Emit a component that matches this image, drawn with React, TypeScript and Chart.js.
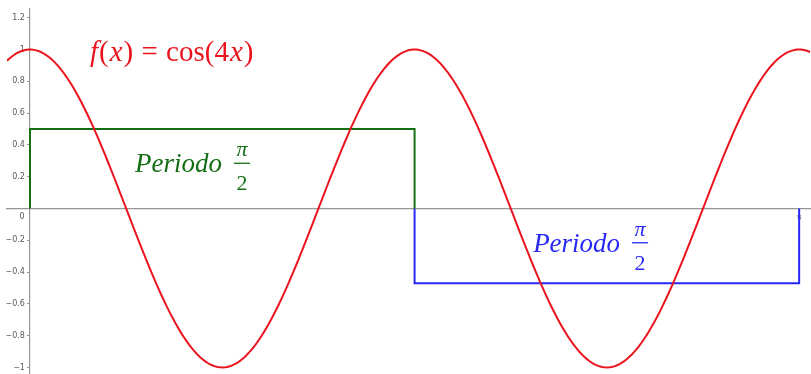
import React, { useEffect, useRef } from "react";
import { Chart, registerables } from "chart.js";

Chart.register(...registerables);

// Axis ranges
const X_MIN = -0.094;
const X_MAX = 3.19;
const Y_MIN = -1.041;
const Y_MAX = 1.255;

// Tick labels
const Y_TICKS = [-1, -0.8, -0.6, -0.4, -0.2, 0, 0.2, 0.4, 0.6, 0.8, 1, 1.2];
const X_TICKS = [Math.PI];
const X_TICK_LABELS = ["π"];

// f(x) = cos(4x), sampled across the visible range
const CURVE_STEP = 0.01;
const curveX: number[] = [];
for (let x = X_MIN; x <= X_MAX + 1e-9; x += CURVE_STEP) curveX.push(x);
const curveY = curveX.map((x) => Math.cos(4 * x));

// First period (green) and second period (blue) step outlines
const greenX = [0, 0, Math.PI / 2, Math.PI / 2];
const greenY = [0, 0.5, 0.5, 0];
const blueX = [Math.PI / 2, Math.PI / 2, Math.PI, Math.PI];
const blueY = [0, -0.47, -0.47, 0];

const RED = "rgb(235, 20, 30)";
const GREEN = "rgb(20, 110, 20)";
const BLUE = "rgb(40, 40, 245)";
const AXIS = "rgb(150, 150, 150)";
const TICK_TEXT = "rgb(90, 90, 90)";

const SERIF = '"Liberation Serif", "DejaVu Serif", serif';

type Piece = { t: string; it?: boolean };

function drawPieces(ctx: CanvasRenderingContext2D, pieces: Piece[], x: number, y: number, size: number, color: string) {
  ctx.fillStyle = color;
  ctx.textBaseline = "alphabetic";
  ctx.textAlign = "left";
  let cx = x;
  for (const p of pieces) {
    ctx.font = `${p.it ? "italic " : ""}${size}px ${SERIF}`;
    ctx.fillText(p.t, cx, y);
    cx += ctx.measureText(p.t).width + 1;
  }
}

function drawPeriodLabel(ctx: CanvasRenderingContext2D, x: number, y: number, color: string) {
  // "Periodo" followed by the fraction π / 2
  ctx.fillStyle = color;
  ctx.textBaseline = "alphabetic";
  ctx.textAlign = "left";
  ctx.font = `italic 27px ${SERIF}`;
  ctx.fillText("Periodo", x, y);
  const w = ctx.measureText("Periodo").width;
  const fx = x + w + 20;
  ctx.font = `italic 22px ${SERIF}`;
  ctx.textAlign = "center";
  ctx.fillText("π", fx, y - 16);
  ctx.font = `22px ${SERIF}`;
  ctx.fillText("2", fx, y + 18);
  ctx.strokeStyle = color;
  ctx.lineWidth = 1.3;
  ctx.beginPath();
  ctx.moveTo(fx - 8, y - 9);
  ctx.lineTo(fx + 8, y - 9);
  ctx.stroke();
}

const labelsPlugin = {
  id: "mathLabels",
  afterDatasetsDraw(chart: any) {
    const ctx: CanvasRenderingContext2D = chart.ctx;
    const xs = chart.scales.x;
    const ys = chart.scales.y;
    ctx.save();

    // origin label, below-left of the axes crossing
    ctx.font = "8px 'DejaVu Sans', sans-serif";
    ctx.fillStyle = TICK_TEXT;
    ctx.textAlign = "center";
    ctx.textBaseline = "middle";
    ctx.fillText("0", xs.getPixelForValue(0) - 8, ys.getPixelForValue(0) + 8);

    drawPieces(
      ctx,
      [
        { t: "f", it: true },
        { t: "(" },
        { t: "x", it: true },
        { t: ")" },
        { t: " = " },
        { t: "cos(4" },
        { t: "x", it: true },
        { t: ")" },
      ],
      xs.getPixelForValue(0.245),
      ys.getPixelForValue(0.928),
      29,
      RED
    );

    drawPeriodLabel(ctx, xs.getPixelForValue(0.429), ys.getPixelForValue(0.228), GREEN);
    drawPeriodLabel(ctx, xs.getPixelForValue(2.055), ys.getPixelForValue(-0.272), BLUE);

    ctx.restore();
  },
};

export default function App() {
  const ref = useRef<HTMLCanvasElement>(null);

  useEffect(() => {
    if (!ref.current) return;
    const chart = new Chart(ref.current, {
      type: "line",
      data: {
        datasets: [
          {
            label: "f(x) = cos(4x)",
            data: curveX.map((x, i) => ({ x, y: curveY[i] })),
            borderColor: RED,
            borderWidth: 2,
            pointRadius: 0,
            tension: 0,
          },
          {
            label: "Periodo 1",
            data: greenX.map((x, i) => ({ x, y: greenY[i] })),
            borderColor: GREEN,
            borderWidth: 2,
            pointRadius: 0,
            tension: 0,
          },
          {
            label: "Periodo 2",
            data: blueX.map((x, i) => ({ x, y: blueY[i] })),
            borderColor: BLUE,
            borderWidth: 2,
            pointRadius: 0,
            tension: 0,
          },
        ],
      },
      options: {
        animation: false,
        responsive: true,
        maintainAspectRatio: false,
        layout: { padding: { left: 7, top: 9, right: 0, bottom: 0 } },
        plugins: { legend: { display: false }, tooltip: { enabled: false } },
        scales: {
          x: {
            type: "linear",
            min: X_MIN,
            max: X_MAX,
            position: { y: 0 } as any,
            afterFit: (s: any) => {
              s.height = 0;
              s.paddingLeft = 0;
              s.paddingRight = 0;
            },
            afterBuildTicks: (s: any) => {
              s.ticks = X_TICKS.map((value) => ({ value }));
            },
            border: { display: true, color: AXIS, width: 1.2 },
            grid: { drawOnChartArea: false, drawTicks: true, tickLength: 3, color: AXIS },
            ticks: {
              color: TICK_TEXT,
              font: { size: 7, family: "'DejaVu Sans', sans-serif" },
              padding: 1,
              maxRotation: 0,
              autoSkip: false,
              callback: (v: any) => {
                const i = X_TICKS.findIndex((t) => Math.abs(t - Number(v)) < 1e-6);
                return i >= 0 ? X_TICK_LABELS[i] : "";
              },
            },
          },
          y: {
            type: "linear",
            min: Y_MIN,
            max: Y_MAX,
            position: { x: 0 } as any,
            afterFit: (s: any) => {
              s.width = 0;
              s.paddingTop = 0;
              s.paddingBottom = 0;
            },
            afterBuildTicks: (s: any) => {
              s.ticks = Y_TICKS.map((value) => ({ value }));
            },
            border: { display: true, color: AXIS, width: 1.2 },
            grid: { drawOnChartArea: false, drawTicks: true, tickLength: 2, color: AXIS },
            ticks: {
              color: TICK_TEXT,
              font: { size: 8, family: "'DejaVu Sans', sans-serif" },
              autoSkip: false,
              callback: (v: any) => {
                const n = Math.round(Number(v) * 10) / 10;
                if (n === 0) return "";
                // trailing spaces keep the labels clear of the axis line
                return (n < 0 ? "−" + String(Math.abs(n)) : String(n)) + "  ";
              },
            },
          },
        },
      },
      plugins: [labelsPlugin],
    });
    return () => chart.destroy();
  }, []);

  return (
    <div style={{ position: "fixed", left: 0, top: 0, width: 811, height: 374, background: "#fff" }}>
      <canvas ref={ref} />
    </div>
  );
}
